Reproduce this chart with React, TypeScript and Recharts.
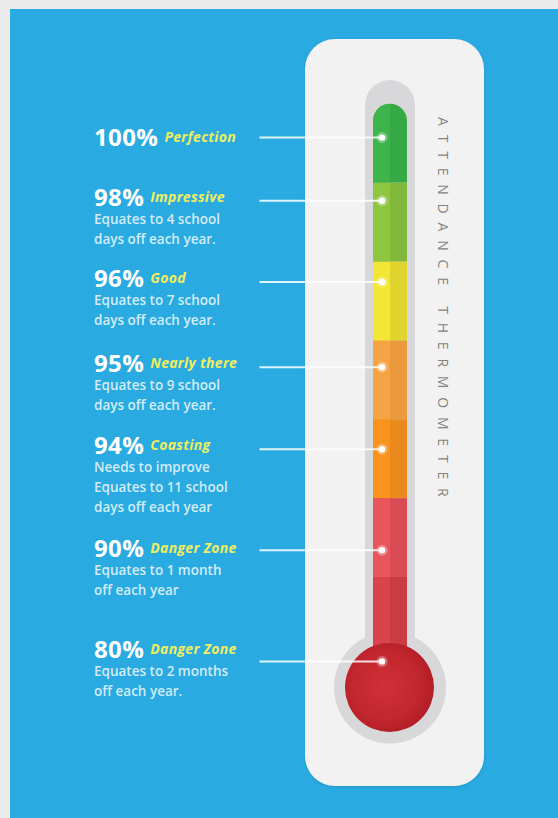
import React from "react";
import { ComposedChart, Bar, Scatter, XAxis, YAxis, ReferenceDot } from "recharts";

// attendance tiers, top to bottom
const tierLabels = ["100%", "98%", "96%", "95%", "94%", "90%", "80%"];
const tierNames = ["Perfection", "Impressive", "Good", "Nearly there", "Coasting", "Danger Zone", "Danger Zone"];
const tierNotes = [
  [],
  ["Equates to 4 school", "days off each year."],
  ["Equates to 7 school", "days off each year."],
  ["Equates to 9 school", "days off each year."],
  ["Needs to improve", "Equates to 11 school", "days off each year"],
  ["Equates to 1 month", "off each year"],
  ["Equates to 2 months", "off each year."],
];
// where each pointer meets the tube, in band units (0 = bottom of the tube)
const markerLevels = [6.57, 5.77, 4.74, 3.66, 2.62, 1.34, -0.07];

// tube bands, bottom to top, each one band tall
const bandKeys = ["deepRed", "red", "orange", "amber", "yellow", "lime", "green"];
const bandHeights = [1, 1, 1, 1, 1, 1, 1];
const bulbLevel = -0.4;

const bandLight = ["#d9444c", "#e9555d", "#f7931e", "#f6a443", "#f3e634", "#8ec63f", "#3db54a"];
const bandDark = ["#c93c45", "#da4c55", "#ea891c", "#ea9a3d", "#e0d42f", "#82b93a", "#35a944"];

const tubeRow: Record<string, number | string> = { name: "Attendance" };
bandKeys.forEach((k, i) => (tubeRow[k] = bandHeights[i]));
const tubeData = [tubeRow];

const markers = tierLabels.map((t, i) => ({
  idx: i,
  pos: 0.5,
  level: markerLevels[i],
  tier: t,
  name: tierNames[i],
  notes: tierNotes[i],
}));

// big label centre relative to its pointer line
const labelDy = [0, -3, -3, -4, -4, -2, -12];

const FONT = "'Open Sans', 'Noto Sans', sans-serif";

function Segment(props: any) {
  const { x, y, width, height, light, dark, top } = props;
  const half = width / 2;
  if (top) {
    const r = width / 2;
    const d = `M${x},${y + height} L${x},${y + r} A${r},${r} 0 0 1 ${x + width},${y + r} L${x + width},${y + height} Z`;
    return (
      <g>
        <path d={d} fill={dark} />
        <clipPath id="topClip">
          <path d={d} />
        </clipPath>
        <rect x={x} y={y} width={half} height={height} fill={light} clipPath="url(#topClip)" />
      </g>
    );
  }
  return (
    <g>
      <rect x={x} y={y} width={width} height={height} fill={dark} />
      <rect x={x} y={y} width={half} height={height} fill={light} />
    </g>
  );
}

function Outline(props: any) {
  const { x, y, width, height } = props;
  const pad = 8;
  const ringCy = y + height - 57.5;
  const w = width + pad * 2;
  return (
    <g>
      <rect x={x - pad} y={y} width={w} height={ringCy - y} rx={w / 2} fill="#d8d8db" />
      <circle cx={x + width / 2} cy={ringCy} r={56} fill="#d8d8db" />
    </g>
  );
}

function Bulb(props: any) {
  const { cx, cy } = props;
  return (
    <g>
      <defs>
        <radialGradient id="bulbGrad" cx="45%" cy="48%" r="55%">
          <stop offset="0%" stopColor="#cf3137" />
          <stop offset="70%" stopColor="#c2262e" />
          <stop offset="100%" stopColor="#b21d25" />
        </radialGradient>
      </defs>
      <circle cx={cx} cy={cy} r={44.5} fill="url(#bulbGrad)" />
    </g>
  );
}

function Marker(props: any) {
  const { cx, cy, payload } = props;
  const i = payload.idx;
  const mid = cy + labelDy[i];
  const left = cx - 295.5;
  return (
    <g>
      <line x1={cx - 130} x2={cx - 8} y1={cy} y2={cy} stroke="#ffffff" strokeWidth={2} strokeOpacity={0.85} />
      <circle cx={cx - 7.5} cy={cy} r={5.5} fill="#ffffff" opacity={0.3} />
      <circle cx={cx - 7.5} cy={cy} r={3.2} fill="#ffffff" />
      <text x={left} y={mid + 8.5} fontFamily={FONT}>
        <tspan fontSize={24} fontWeight={700} fill="#ffffff" letterSpacing={0.4}>
          {payload.tier}
        </tspan>
        <tspan dx={6} dy={-4} fontSize={14} fontWeight={700} fontStyle="italic" fill="#f0ee5c" letterSpacing={0.3}>
          {payload.name}
        </tspan>
      </text>
      {payload.notes.map((n: string, k: number) => (
        <text
          key={k}
          x={left}
          y={mid + 26.5 + 20 * k}
          fontFamily={FONT}
          fontSize={13.5}
          fontWeight={600}
          fill="#e3f3fb"
          fillOpacity={0.92}
        >
          {n}
        </text>
      ))}
    </g>
  );
}

export default function App() {
  return (
    <div style={{ position: "fixed", left: 0, top: 0, width: 558, height: 818, background: "#ebebeb", overflow: "hidden" }}>
      <div style={{ position: "absolute", left: 10, top: 9, right: 0, bottom: 0, background: "#29abe2" }} />
      <div
        style={{
          position: "absolute",
          left: 305,
          top: 39,
          width: 179,
          height: 747,
          borderRadius: 30,
          background: "#f2f2f2",
          boxShadow: "0 1px 3px rgba(0,0,0,0.12)",
        }}
      />
      <div
        style={{
          position: "absolute",
          left: 436,
          top: 117,
          writingMode: "vertical-rl",
          fontFamily: FONT,
          fontSize: 14,
          lineHeight: "14px",
          letterSpacing: "8.8px",
          color: "#848484",
          whiteSpace: "nowrap",
        }}
      >
        ATTENDANCE THERMOMETER
      </div>
      <div style={{ position: "absolute", left: 0, top: 0 }}>
        <ComposedChart
          width={558}
          height={818}
          data={tubeData}
          margin={{ top: 80, right: 79, bottom: 73, left: 300 }}
        >
          <XAxis xAxisId="tube" dataKey="name" type="category" hide />
          <XAxis xAxisId="pos" dataKey="pos" type="number" domain={[0, 1]} hide />
          <YAxis type="number" domain={[-1.13, 7.3]} scale="linear" hide />
          {bandKeys.map((k, i) => (
            <Bar
              key={k}
              xAxisId="tube"
              dataKey={k}
              stackId="tube"
              barSize={34}
              isAnimationActive={false}
              background={i === 0 ? (p: any) => <Outline {...p} /> : undefined}
              shape={(p: any) => (
                <Segment {...p} light={bandLight[i]} dark={bandDark[i]} top={i === bandKeys.length - 1} />
              )}
            />
          ))}
          <ReferenceDot
            xAxisId="tube"
            x="Attendance"
            y={bulbLevel}
            r={44}
            shape={(p: any) => <Bulb {...p} />}
          />
          <Scatter
            data={markers}
            xAxisId="pos"
            dataKey="level"
            isAnimationActive={false}
            shape={(p: any) => <Marker {...p} />}
          />
        </ComposedChart>
      </div>
    </div>
  );
}
